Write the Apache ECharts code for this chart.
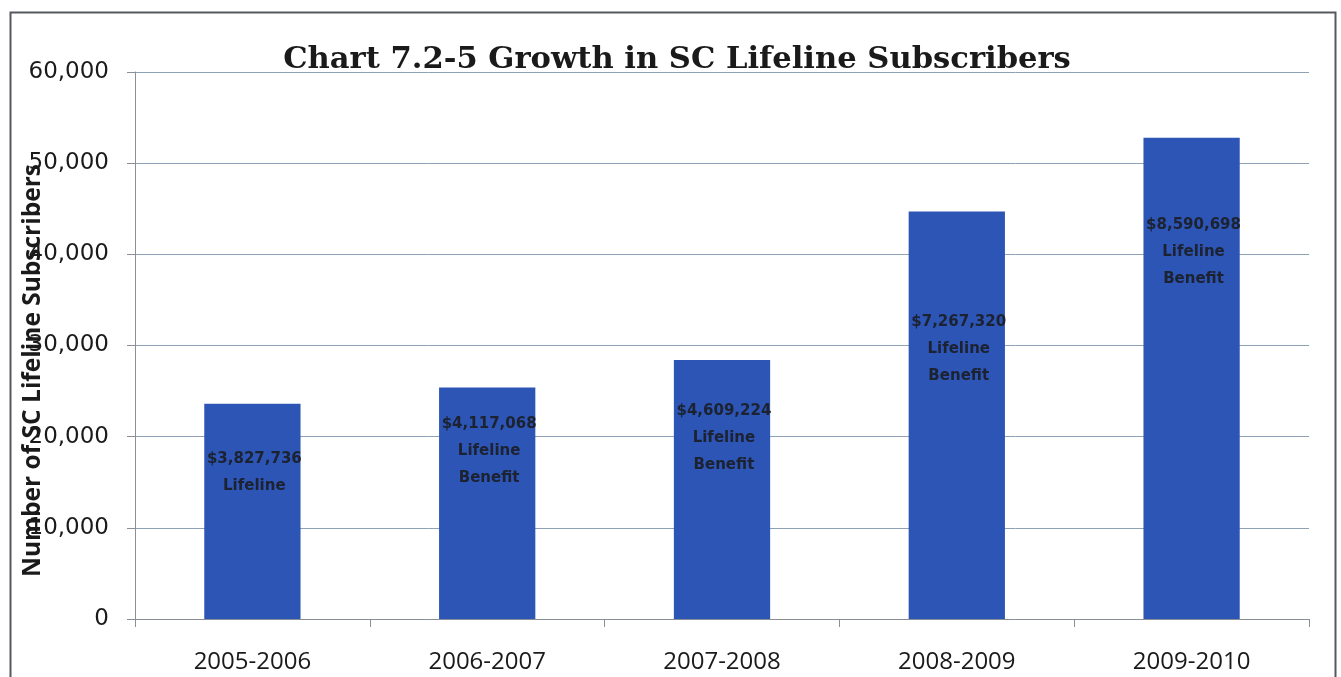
<!DOCTYPE html>
<html>
<head>
<meta charset="utf-8">
<script src="https://cdn.jsdelivr.net/npm/echarts@6/dist/echarts.min.js"></script>
<style>
  html, body { margin: 0; padding: 0; background: #fff; }
  #chart { width: 1341px; height: 677px; }
</style>
</head>
<body>
<div id="chart"></div>
<script>
// Fiscal years on the category axis
const categories = ['2005-2006', '2006-2007', '2007-2008', '2008-2009', '2009-2010'];
// Number of SC Lifeline subscribers per year
const subscribers = [23600, 25400, 28400, 44700, 52800];
// Benefit amount written inside each bar
const benefitLabels = [
  '$3,827,736\nLifeline',
  '$4,117,068\nLifeline\nBenefit',
  '$4,609,224\nLifeline\nBenefit',
  '$7,267,320\nLifeline\nBenefit',
  '$8,590,698\nLifeline\nBenefit'
];
// Y axis ticks
const yTicks = [0, 10000, 20000, 30000, 40000, 50000, 60000];

// Vertical placement of each in-bar label, measured down from the bar top
const labelDrop = [69, 64, 78, 138, 114];

const chart = echarts.init(document.getElementById('chart'));

const barData = subscribers.map((v, i) => ({
  value: v,
  label: {
    position: ['52%', labelDrop[i]],
    formatter: benefitLabels[i]
  }
}));

chart.setOption({
  animation: false,
  backgroundColor: '#ffffff',
  title: {
    text: 'Chart 7.2-5 Growth in SC Lifeline Subscribers',
    left: 672,
    textAlign: 'center',
    top: 40,
    textStyle: {
      fontFamily: '"DejaVu Serif", "Liberation Serif", serif',
      fontWeight: 'bold',
      fontSize: 30.6,
      color: '#1a1a1a'
    }
  },
  graphic: [{
    type: 'rect',
    shape: { x: 10.5, y: 12.5, width: 1325, height: 700 },
    style: { fill: null, stroke: '#55585e', lineWidth: 2 },
    silent: true
  }],
  grid: {
    left: 135, right: 32, top: 72, bottom: 58,
    containLabel: false,
    outerBoundsMode: 'none'
  },
  xAxis: {
    type: 'category',
    data: categories,
    boundaryGap: true,
    axisLine: { show: true, lineStyle: { color: '#8a8f96', width: 1 } },
    axisTick: { show: true, alignWithLabel: false, length: 8, lineStyle: { color: '#8a8f96' } },
    axisLabel: {
      margin: 31,
      fontFamily: '"Open Sans", "Liberation Sans", sans-serif',
      fontSize: 24,
      color: '#1a1a1a'
    }
  },
  yAxis: {
    type: 'value',
    min: yTicks[0],
    max: yTicks[yTicks.length - 1],
    interval: yTicks[1] - yTicks[0],
    name: 'Number of SC Lifeline Subscribers',
    nameLocation: 'middle',
    nameGap: 102,
    nameMoveOverlap: false,
    nameTextStyle: {
      fontFamily: '"Open Sans", "Liberation Sans", sans-serif',
      fontWeight: 'bold',
      fontSize: 24.5,
      color: '#1a1a1a',
      verticalAlign: 'middle',
      padding: [0, 0, 0, -50]
    },
    axisLine: { show: true, lineStyle: { color: '#8a8f96', width: 1 } },
    axisTick: { show: true, length: 8, lineStyle: { color: '#8a8f96' } },
    splitLine: { show: true, lineStyle: { color: '#8fa1b5', width: 1 } },
    axisLabel: {
      margin: 26,
      fontFamily: '"DejaVu Sans", sans-serif',
      fontSize: 23,
      color: '#1a1a1a',
      formatter: v => v.toLocaleString('en-US')
    }
  },
  series: [{
    type: 'bar',
    data: barData,
    barWidth: '41%',
    itemStyle: { color: '#2c55b6' },
    label: {
      show: true,
      align: 'center',
      verticalAlign: 'middle',
      fontFamily: '"DejaVu Sans", sans-serif',
      fontWeight: 'bold',
      fontSize: 15,
      lineHeight: 27,
      color: '#1c2230'
    }
  }]
});
</script>
</body>
</html>
